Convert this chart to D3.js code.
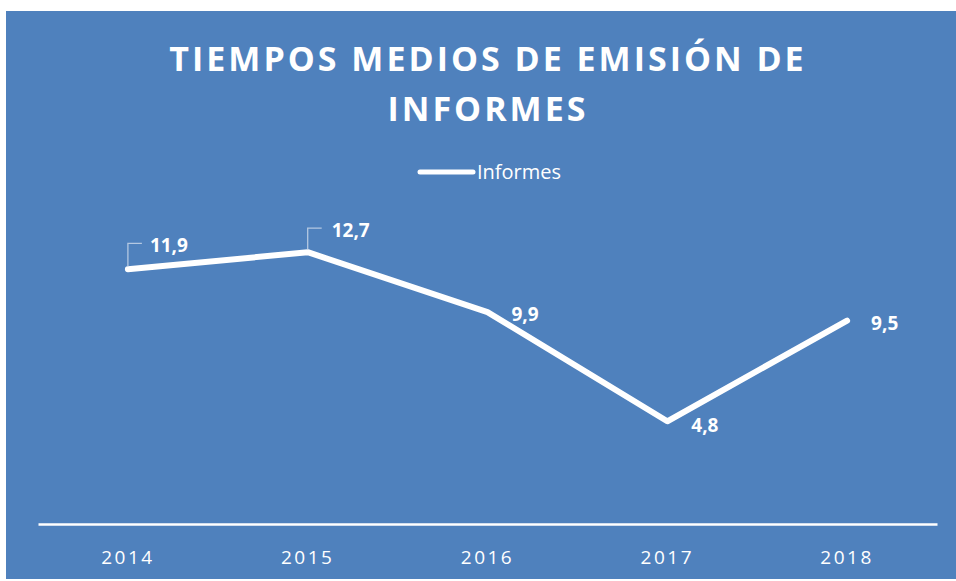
<!DOCTYPE html>
<html>
<head>
<meta charset="utf-8">
<title>Tiempos medios</title>
<style>
  body { margin: 0; background: #fff; }
  svg { font-family: "Open Sans", sans-serif; display: block; }
  .title { font-size: 34px; font-weight: bold; fill: #fff; letter-spacing: 3px; }
  .lbl { font-size: 19px; font-weight: bold; fill: #fff; }
</style>
</head>
<body>
<div id="chart"></div>
<script src="https://d3js.org/d3.v7.min.js"></script>
<script>
var years = ["2014", "2015", "2016", "2017", "2018"];
var informes = [11.9, 12.7, 9.9, 4.8, 9.5];
var labels = ["11,9", "12,7", "9,9", "4,8", "9,5"];
var seriesName = "Informes";
var titleLines = ["TIEMPOS MEDIOS DE EMISIÓN DE", "INFORMES"];

var W = 956, H = 581;
var bg = "#4F81BD";

var svg = d3.select("#chart").append("svg")
  .attr("width", W).attr("height", H);

svg.append("rect")
  .attr("x", 6).attr("y", 11)
  .attr("width", W - 6).attr("height", 568)
  .attr("fill", bg);

// title
svg.selectAll(".title").data(titleLines).enter()
  .append("text")
  .attr("class", "title")
  .attr("x", 488)
  .attr("y", (d, i) => 71 + i * 50)
  .attr("text-anchor", "middle")
  .text(d => d);

// legend
var leg = svg.append("g");
leg.append("line")
  .attr("x1", 420).attr("x2", 473)
  .attr("y1", 172).attr("y2", 172)
  .attr("stroke", "#fff").attr("stroke-width", 5)
  .attr("stroke-linecap", "round");
leg.append("text")
  .attr("x", 477).attr("y", 179)
  .attr("fill", "#fff").attr("font-size", 20)
  .text(seriesName);

var x = d3.scaleBand().domain(years).range([38, 937]);
var y = d3.scaleLinear().domain([0, 14]).range([524, 224.4]);

var xAxis = svg.append("g")
  .attr("transform", "translate(0,524)")
  .call(d3.axisBottom(x).tickSize(0).tickPadding(0));
xAxis.select(".domain").attr("stroke", "#fff").attr("stroke-width", 2.5);
xAxis.selectAll(".tick text")
  .attr("dy", null)
  .attr("y", 40)
  .attr("fill", "#fff")
  .attr("font-size", 19)
  .attr("font-family", "'Open Sans', sans-serif")
  .style("letter-spacing", "2.5px");

var cx = d => x(d) + x.bandwidth() / 2;

var line = d3.line()
  .x((d, i) => cx(years[i]))
  .y(d => y(d));

svg.append("path")
  .datum(informes)
  .attr("fill", "none")
  .attr("stroke", "#fff")
  .attr("stroke-width", 6)
  .attr("stroke-linejoin", "round")
  .attr("stroke-linecap", "round")
  .attr("d", line);

// label offsets relative to the point
var offs = [
  { dx: 22, dy: -17, leader: true },
  { dx: 24, dy: -15, leader: true },
  { dx: 24, dy: 9, leader: false },
  { dx: 24, dy: 11, leader: false },
  { dx: 24, dy: 9, leader: false }
];

informes.forEach(function (v, i) {
  var px = cx(years[i]), py = y(v), o = offs[i];
  if (o.leader) {
    svg.append("path")
      .attr("d", "M" + px + "," + (py - 3) + "V" + (py + o.dy - 9) + "H" + (px + 14))
      .attr("fill", "none")
      .attr("stroke", "#B4C8E2")
      .attr("stroke-width", 1.3);
  }
  svg.append("text")
    .attr("class", "lbl")
    .attr("x", px + o.dx)
    .attr("y", py + o.dy)
    .text(labels[i]);
});
</script>
</body>
</html>
